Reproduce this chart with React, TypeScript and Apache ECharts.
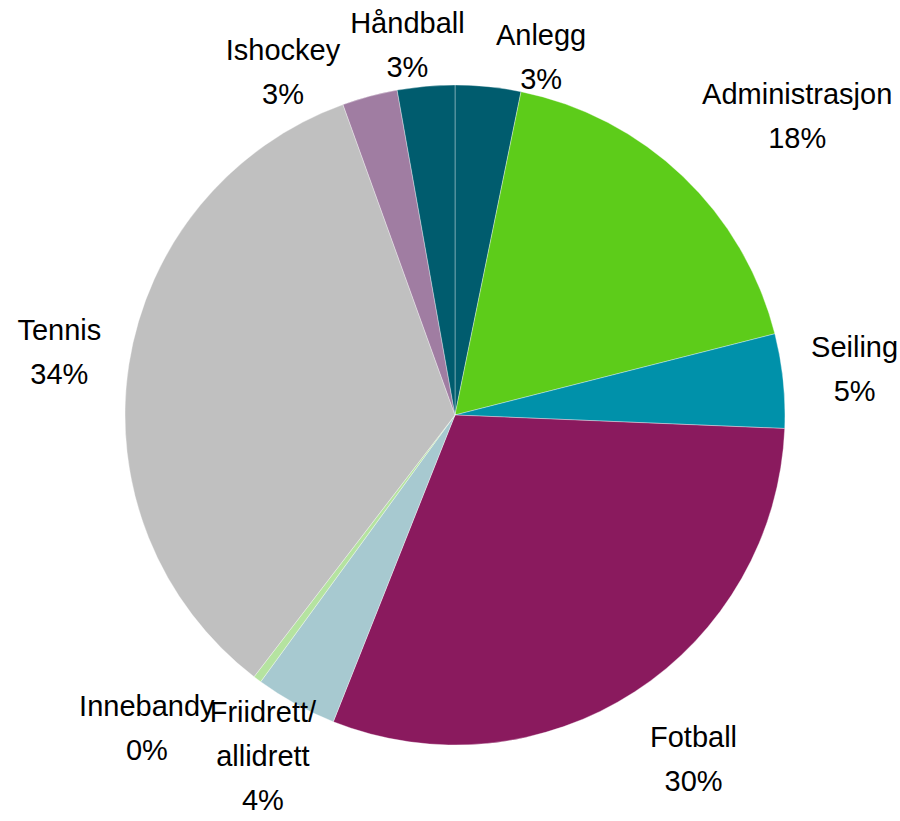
import React, { useEffect, useRef } from "react";
import * as echarts from "echarts";

const categories = [
  "Anlegg",
  "Administrasjon",
  "Seiling",
  "Fotball",
  "Friidrett/allidrett",
  "Innebandy",
  "Tennis",
  "Ishockey",
  "Håndball",
];
const values = [3.2, 17.8, 4.6, 30.3, 4.0, 0.4, 34.0, 2.7, 2.8];
const colors = [
  "#005C6E",
  "#5DCC1A",
  "#0091AA",
  "#8A1A5E",
  "#A7C9D0",
  "#B5E3A0",
  "#C0C0C0",
  "#A07DA2",
  "#005C6E",
];

// label nudges (px) applied after the radial placement, to resolve overlaps
const labelNudge: Record<string, [number, number]> = {
  Anlegg: [41, 10],
  "Håndball": [-6, -2],
  Ishockey: [-50, 25],
  Innebandy: [-26, -18],
  "Friidrett/allidrett": [32, 4],
  Administrasjon: [0, 4],
  Tennis: [0, 6],
};

const CX = 455;
const CY = 415;
const R = 330;
const W = 900;
const H = 821;

export default function App() {
  const ref = useRef<HTMLDivElement>(null);
  useEffect(() => {
    document.body.style.margin = "0";
    if (!ref.current) return;
    const chart = echarts.init(ref.current, undefined, { renderer: "svg" });
    const total = values.reduce((a, b) => a + b, 0);
    const cum: number[] = [];
    let acc = 0;
    values.forEach((v) => {
      cum.push(acc + v / 2);
      acc += v;
    });
    const clamp = (v: number) => Math.max(-1, Math.min(1, v));
    chart.setOption({
      animation: false,
      backgroundColor: "#ffffff",
      series: [
        {
          type: "pie",
          center: [CX, CY],
          radius: R,
          startAngle: 90,
          clockwise: true,
          avoidLabelOverlap: false,
          itemStyle: {
            borderColor: "rgba(255,255,255,0.35)",
            borderWidth: 1,
          },
          label: {
            show: true,
            position: "outside",
            fontFamily: "'Liberation Sans', Arial, sans-serif",
            fontSize: 29,
            lineHeight: 44,
            color: "#000000",
            formatter: (p: any) => {
              const pct = Math.round((p.value / total) * 100);
              return p.name.replace("/", "/\n") + "\n" + pct + "%";
            },
          },
          labelLine: { show: false },
          labelLayout: (p: any) => {
            const i = p.dataIndex;
            const theta = (cum[i] / total) * Math.PI * 2;
            const sx = Math.sin(theta);
            const sy = -Math.cos(theta);
            const w = p.labelRect.width;
            const h = p.labelRect.height;
            const d = R + 28;
            let x = CX + d * sx + (w / 2) * clamp(2 * sx);
            let y = CY + d * sy + (h / 2) * clamp(2 * sy);
            if (y - h / 2 < 3) y = 3 + h / 2;
            if (y + h / 2 > H - 3) y = H - 3 - h / 2;
            const n = labelNudge[categories[i]];
            if (n) {
              x += n[0];
              y += n[1];
            }
            return { x, y, align: "center", verticalAlign: "middle" };
          },
          data: categories.map((name, i) => ({
            name,
            value: values[i],
            itemStyle: { color: colors[i] },
          })),
        },
      ],
    });
    return () => chart.dispose();
  }, []);
  return <div ref={ref} style={{ width: W, height: H }} />;
}
